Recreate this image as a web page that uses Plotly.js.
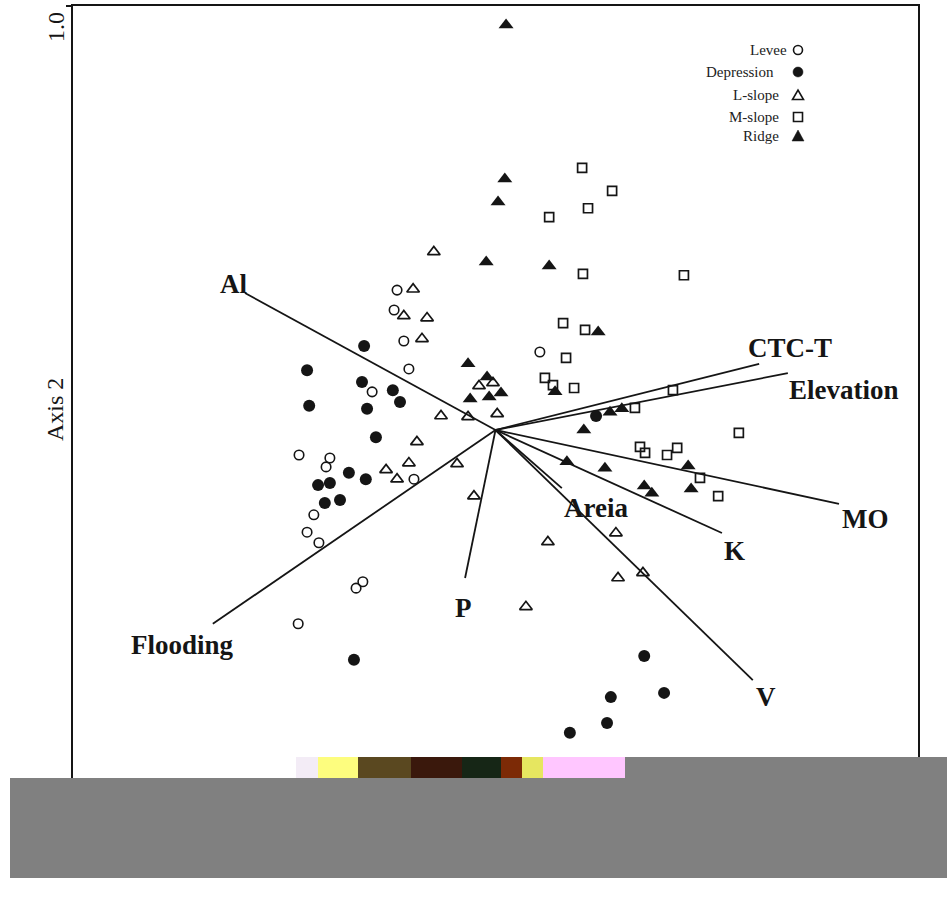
<!DOCTYPE html>
<html>
<head>
<meta charset="utf-8">
<script src="https://cdn.plot.ly/plotly-3.0.1.min.js"></script>
<style>html,body{margin:0;padding:0;background:#fff;}#chart{width:947px;height:905px;}</style>
</head>
<body>
<div id="chart"></div>
<script>
// ---- Data (ordination scores) ----
const leveeX = [-0.233,-0.240,-0.217,-0.205,-0.292,-0.465,-0.392,-0.401,-0.193,-0.430,-0.446,-0.418,-0.314,-0.330,-0.467,0.105];
const leveeY = [0.330,0.283,0.210,0.144,0.090,-0.059,-0.066,-0.087,-0.116,-0.200,-0.241,-0.266,-0.358,-0.373,-0.457,0.184];

const depressionX = [-0.311,-0.446,-0.316,-0.243,-0.226,-0.441,-0.304,-0.283,-0.347,-0.307,-0.420,-0.392,-0.404,-0.368,-0.335,0.352,0.399,0.273,0.264,0.176,0.238];
const depressionY = [0.198,0.141,0.113,0.094,0.066,0.057,0.050,-0.017,-0.101,-0.116,-0.130,-0.125,-0.172,-0.165,-0.542,-0.533,-0.620,-0.630,-0.691,-0.714,0.033];

const lslopeX = [-0.146,-0.195,-0.217,-0.162,-0.174,-0.039,-0.006,-0.129,-0.065,0.004,-0.186,-0.091,-0.205,-0.259,-0.233,-0.051,0.124,0.285,0.290,0.349,0.072];
const lslopeY = [0.420,0.332,0.269,0.264,0.215,0.104,0.111,0.033,0.031,0.038,-0.028,-0.080,-0.078,-0.094,-0.116,-0.156,-0.264,-0.243,-0.349,-0.337,-0.417];

const mslopeX = [0.205,0.276,0.219,0.127,0.207,0.446,0.160,0.212,0.167,0.117,0.136,0.186,0.420,0.330,0.576,0.342,0.354,0.406,0.430,0.484,0.527];
const mslopeY = [0.618,0.564,0.523,0.502,0.368,0.365,0.252,0.236,0.170,0.123,0.106,0.099,0.094,0.052,-0.007,-0.040,-0.054,-0.059,-0.042,-0.113,-0.156];

const ridgeX = [0.025,0.022,0.006,-0.022,0.127,0.243,-0.065,-0.020,-0.060,-0.015,0.013,0.141,0.271,0.299,0.209,0.169,0.259,0.352,0.370,0.456,0.463];
const ridgeY = [0.955,0.592,0.538,0.396,0.387,0.231,0.156,0.125,0.073,0.078,0.087,0.090,0.042,0.050,0.000,-0.075,-0.090,-0.132,-0.149,-0.085,-0.139];

// Environmental vectors (biplot arrows from origin)
const vectorNames = ['Al','Flooding','P','Areia','K','MO','Elevation','CTC-T','V'];
const vectorX = [-0.593,-0.669,-0.072,0.157,0.536,0.813,0.692,0.624,0.609];
const vectorY = [0.323,-0.457,-0.349,-0.137,-0.243,-0.174,0.134,0.156,-0.590];

// Axis ticks (only the visible one)
const yTickVals = [1.0];
const yTickText = ['1.0'];
const yAxisTitle = 'Axis 2';

// Legend entries
const groupNames = ['Levee','Depression','L-slope','M-slope','Ridge'];

// ---- Styling ----
const SERIF = '"Liberation Serif", "Times New Roman", serif';
const INK = '#151515';
const W = 947, H = 905;
const M = {l:73, r:29, t:6, b:51};
const PW = W - M.l - M.r, PH = H - M.t - M.b;
const px2x = px => (px - M.l) / PW;
const py2y = py => (H - M.b - py) / PH;

// label offsets (pixels) relative to vector tips
const labelShift = {
  'Al':[-11,9], 'Flooding':[-30,-21], 'P':[-2,-30], 'Areia':[34,-20], 'K':[13,-18],
  'MO':[27,-15], 'Elevation':[56,-17], 'CTC-T':[31,16], 'V':[13,-17]
};

const markerStyles = {
  'Levee':      {symbol:'circle-open', size:9.5, color:INK, line:{width:1.6, color:INK}},
  'Depression': {symbol:'circle', size:12, color:INK, line:{width:0}},
  'L-slope':    {symbol:'triangle-up-open', size:11, color:INK, line:{width:1.7, color:INK}},
  'M-slope':    {symbol:'square-open', size:9, color:INK, line:{width:1.7, color:INK}},
  'Ridge':      {symbol:'triangle-up', size:13, color:INK, line:{width:0}}
};

const groupData = {
  'Levee':[leveeX, leveeY], 'Depression':[depressionX, depressionY],
  'L-slope':[lslopeX, lslopeY], 'M-slope':[mslopeX, mslopeY], 'Ridge':[ridgeX, ridgeY]
};

// vector trace
const vx = [], vy = [];
vectorNames.forEach((n,i) => { vx.push(0, vectorX[i], null); vy.push(0, vectorY[i], null); });

const traces = [{
  x: vx, y: vy, mode:'lines', type:'scatter', hoverinfo:'skip', showlegend:false,
  line:{color:INK, width:1.8}
}];
groupNames.forEach(g => {
  traces.push({
    x: groupData[g][0], y: groupData[g][1], mode:'markers', type:'scatter', name:g,
    showlegend:false, marker: markerStyles[g], cliponaxis:false
  });
});

const annotations = vectorNames.map((n,i) => ({
  x: vectorX[i], y: vectorY[i], xref:'x', yref:'y', text:n, showarrow:false,
  xanchor:'center', yanchor:'middle',
  xshift: labelShift[n][0], yshift: labelShift[n][1],
  font:{family:SERIF, size:27, color:INK, weight:'bold'}
}));

// y tick labels (rotated, placed below the tick as in the original)
yTickVals.forEach((v,i) => {
  annotations.push({
    x: px2x(56), y: v, xref:'paper', yref:'y', text: yTickText[i], textangle:-90,
    xanchor:'center', yanchor:'middle', yshift:-21, showarrow:false,
    font:{family:SERIF, size:24, color:INK}
  });
});

// y-axis title
annotations.push({
  x: px2x(55), y: py2y(410), xref:'paper', yref:'paper', text: yAxisTitle, textangle:-90,
  xanchor:'center', yanchor:'middle',
  showarrow:false, font:{family:SERIF, size:24, color:INK}
});

// custom legend (text left of symbol)
const legendRows = [
  {name:'Levee', right:789, cy:50},
  {name:'Depression', right:776, cy:72},
  {name:'L-slope', right:781, cy:95},
  {name:'M-slope', right:781, cy:117},
  {name:'Ridge', right:781, cy:136}
];
const shapes = [];
legendRows.forEach(r => {
  annotations.push({
    x: px2x(r.right), y: py2y(r.cy), xref:'paper', yref:'paper', xanchor:'right', yanchor:'middle',
    text: r.name, showarrow:false, font:{family:SERIF, size:15, color:'#222'}
  });
  const base = {xref:'paper', yref:'paper', xsizemode:'pixel', ysizemode:'pixel',
                xanchor: px2x(798), yanchor: py2y(r.cy), layer:'above'};
  const open = {line:{color:INK, width:1.6}, fillcolor:'rgba(0,0,0,0)'};
  const fill = {line:{color:INK, width:0.5}, fillcolor:INK};
  if (r.name === 'Levee') shapes.push(Object.assign({type:'circle', x0:-4.5, x1:4.5, y0:-4.5, y1:4.5}, base, open));
  if (r.name === 'Depression') shapes.push(Object.assign({type:'circle', x0:-5, x1:5, y0:-5, y1:5}, base, fill));
  if (r.name === 'L-slope') shapes.push(Object.assign({type:'path', path:'M-5.5,-4.5 L5.5,-4.5 L0,5 Z'}, base, open));
  if (r.name === 'M-slope') shapes.push(Object.assign({type:'rect', x0:-4.5, x1:4.5, y0:-4.5, y1:4.5}, base, open));
  if (r.name === 'Ridge') shapes.push(Object.assign({type:'path', path:'M-6,-5 L6,-5 L0,6 Z'}, base, fill));
});

// occluding blocks present in the reference image (bottom)
function block(x0,x1,y0,y1,color){
  shapes.push({type:'rect', xref:'paper', yref:'paper', x0:px2x(x0), x1:px2x(x1),
    y0:py2y(y1), y1:py2y(y0), fillcolor:color, line:{width:0}, layer:'above'});
}
block(296,318,757,779,'#f3ecf6');
block(318,358,757,779,'#fdfd7e');
block(358,411,757,779,'#5a4820');
block(411,462,757,779,'#3a180c');
block(462,501,757,779,'#162616');
block(501,522,757,779,'#7c2a06');
block(522,543,757,779,'#e6e660');
block(543,625,757,779,'#ffc6ff');
block(625,947,757,779,'#808080');
block(10,947,778,878,'#808080');

const layout = {
  width:W, height:H, margin:M, paper_bgcolor:'#fff', plot_bgcolor:'#fff',
  showlegend:false,
  font:{family:SERIF, color:INK},
  xaxis:{range:[-1,1], showgrid:false, zeroline:false, showline:true, mirror:true,
         linecolor:INK, linewidth:1.6, ticks:'', showticklabels:false, fixedrange:true},
  yaxis:{range:[-1,1], showgrid:false, zeroline:false, showline:true, mirror:true,
         linecolor:INK, linewidth:1.6, ticks:'outside', ticklen:5, tickwidth:1.6, tickcolor:INK,
         tickvals:yTickVals, showticklabels:false, fixedrange:true},
  annotations: annotations,
  shapes: shapes
};

Plotly.newPlot('chart', traces, layout, {displayModeBar:false, staticPlot:true});
</script>
</body>
</html>
